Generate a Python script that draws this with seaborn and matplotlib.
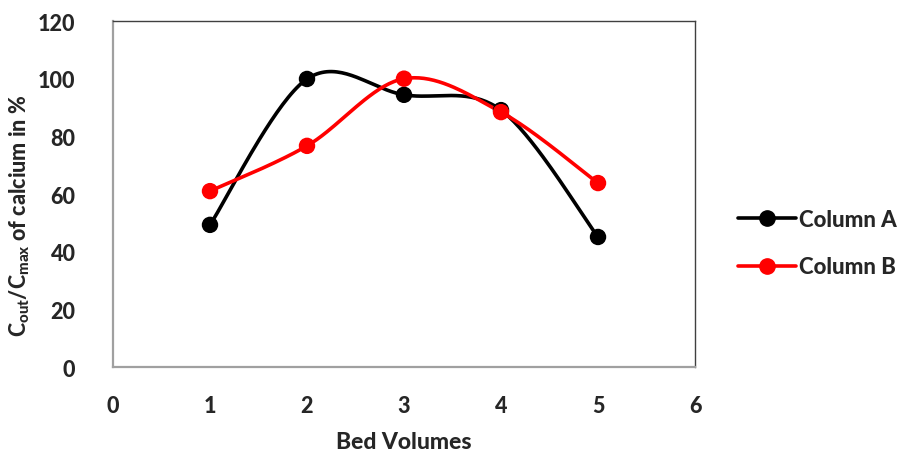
import numpy as np
import pandas as pd
import matplotlib
matplotlib.use("Agg")
import matplotlib.pyplot as plt
import seaborn as sns
from matplotlib.lines import Line2D

bed_volumes = [1, 2, 3, 4, 5]
column_a = [49.3, 99.9, 94.4, 89.1, 45.1]
column_b = [61.0, 76.7, 100.0, 88.4, 63.8]
series_names = ["Column A", "Column B"]
series_colors = ["#000000", "#FF0000"]

sns.set_theme(style="white")
plt.rcParams['font.family'] = ['Lato', 'DejaVu Sans']
plt.rcParams['mathtext.fontset'] = 'custom'
plt.rcParams['mathtext.bf'] = 'Lato:black'
plt.rcParams['mathtext.rm'] = 'Lato:black'
plt.rcParams['mathtext.default'] = 'bf'

W = 'black'
FS = 15.5


def smooth(xs, ys, n=40):
    # Excel-like smoothed line: Catmull-Rom segments as cubic Bezier
    pts = np.column_stack([xs, ys]).astype(float)
    P = np.vstack([pts[0], pts, pts[-1]])
    out = []
    t = np.linspace(0, 1, n)[:, None]
    for i in range(1, len(P) - 2):
        p0, p1, p2, p3 = P[i - 1], P[i], P[i + 1], P[i + 2]
        c1 = p1 + (p2 - p0) / 6.0
        c2 = p2 - (p3 - p1) / 6.0
        seg = ((1 - t) ** 3) * p1 + 3 * ((1 - t) ** 2) * t * c1 + 3 * (1 - t) * t ** 2 * c2 + t ** 3 * p2
        out.append(seg if i == 1 else seg[1:])
    seg = np.vstack(out)
    return seg[:, 0], seg[:, 1]


fig = plt.figure(figsize=(9.09, 4.52), dpi=100)
ax = fig.add_axes([0.1243, 0.1858, 0.6403, 0.7655])

df = pd.DataFrame({
    "x": bed_volumes * 2,
    "y": column_a + column_b,
    "series": [series_names[0]] * 5 + [series_names[1]] * 5,
})

for name, vals, col in zip(series_names, [column_a, column_b], series_colors):
    sx, sy = smooth(bed_volumes, vals)
    ax.plot(sx, sy, color=col, lw=2.6, solid_capstyle='round', zorder=2)

sns.scatterplot(data=df, x="x", y="y", hue="series", palette=series_colors,
                s=140, edgecolor='none', ax=ax, legend=False, zorder=3)

ax.set_xlim(0, 6)
ax.set_ylim(0, 120)
ax.set_xticks(range(0, 7))
ax.set_yticks(range(0, 121, 20))
ax.tick_params(axis='x', length=0, labelsize=FS, pad=20)
ax.tick_params(axis='y', length=0, labelsize=FS, pad=27)
for lab in ax.get_xticklabels() + ax.get_yticklabels():
    lab.set_fontweight(W)
ax.set_xlabel("Bed Volumes", fontsize=16.5, fontweight=W)
ax.xaxis.set_label_coords(0.5, -0.186)
ax.set_ylabel(r"C$_{out}$/C$_{max}$ of calcium in %", fontsize=FS, fontweight=W)
ax.yaxis.set_label_coords(-0.14, 0.44)

for s in ax.spines.values():
    s.set_visible(True)
    s.set_color('#404040')
    s.set_linewidth(1.0)
ax.spines['left'].set_color('#a0a0a0')
ax.spines['bottom'].set_color('#a0a0a0')
ax.spines['left'].set_linewidth(1.6)
ax.spines['bottom'].set_linewidth(1.6)

handles = [Line2D([0], [0], color=c, lw=2.6, marker='o', markersize=11)
           for c in series_colors]
leg = fig.legend(handles, series_names, loc='center left', bbox_to_anchor=(0.79, 0.46),
                 frameon=False, handlelength=2.6, labelspacing=1.2, handletextpad=0.15,
                 prop={'weight': W, 'size': 16})

fig.savefig("out.png", dpi=100)
